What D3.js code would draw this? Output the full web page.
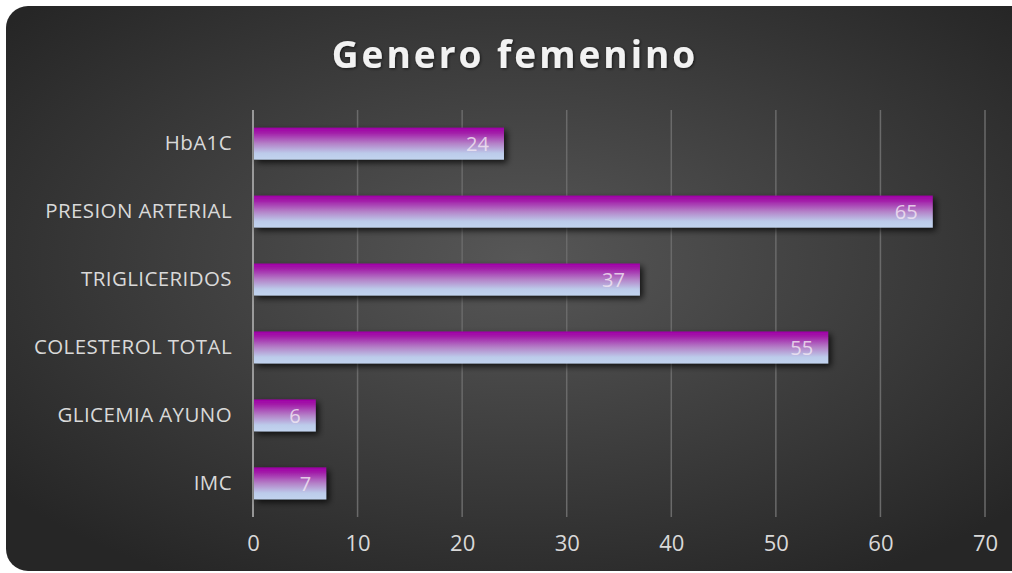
<!DOCTYPE html>
<html>
<head>
<meta charset="utf-8">
<script src="https://cdn.jsdelivr.net/npm/d3@7"></script>
<style>
  html, body { margin: 0; padding: 0; background: #fff; }
  svg { display: block; }
</style>
</head>
<body>
<div id="chart"></div>
<script>
// data
const categories = ["HbA1C", "PRESION ARTERIAL", "TRIGLICERIDOS", "COLESTEROL TOTAL", "GLICEMIA AYUNO", "IMC"];
const values = [24, 65, 37, 55, 6, 7];
const xTicks = [0, 10, 20, 30, 40, 50, 60, 70];
const title = "Genero femenino";

const width = 1012, height = 573;
const margin = { left: 253, right: 27, top: 110, bottom: 56 };

const svg = d3.select("#chart").append("svg")
  .attr("width", width)
  .attr("height", height);

const defs = svg.append("defs");

// background: radial grey
const bg = defs.append("radialGradient").attr("id", "bg")
  .attr("cx", "50%").attr("cy", "45%").attr("r", "65%");
bg.append("stop").attr("offset", "0%").attr("stop-color", "#575757");
bg.append("stop").attr("offset", "100%").attr("stop-color", "#262626");

// bar fill: magenta top -> pale blue bottom
const bar = defs.append("linearGradient").attr("id", "bar")
  .attr("x1", 0).attr("y1", 0).attr("x2", 0).attr("y2", 1);
bar.append("stop").attr("offset", "0%").attr("stop-color", "#a000a8");
bar.append("stop").attr("offset", "15%").attr("stop-color", "#a21aa8");
bar.append("stop").attr("offset", "50%").attr("stop-color", "#b482c8");
bar.append("stop").attr("offset", "80%").attr("stop-color", "#bccbea");
bar.append("stop").attr("offset", "100%").attr("stop-color", "#c2d4ef");

const shadow = defs.append("filter").attr("id", "shadow")
  .attr("x", "-10%").attr("y", "-30%").attr("width", "130%").attr("height", "180%");
shadow.append("feDropShadow")
  .attr("dx", 3).attr("dy", 3).attr("stdDeviation", 3)
  .attr("flood-color", "#000").attr("flood-opacity", 0.75);

const glow = defs.append("filter").attr("id", "glow");
glow.append("feDropShadow")
  .attr("dx", 1).attr("dy", 1).attr("stdDeviation", 1.5)
  .attr("flood-color", "#000").attr("flood-opacity", 0.6);

svg.append("rect")
  .attr("x", 6).attr("y", 6)
  .attr("width", width + 20).attr("height", 565)
  .attr("rx", 22).attr("ry", 22)
  .attr("fill", "url(#bg)");

// scales
const x = d3.scaleLinear()
  .domain([0, 70])
  .range([margin.left, width - margin.right]);

const y = d3.scaleBand()
  .domain(categories)
  .range([margin.top, height - margin.bottom])
  .paddingInner(0.53)
  .paddingOuter(0.26);

// gridlines
svg.append("g")
  .selectAll("line")
  .data(xTicks.slice(1))
  .join("line")
  .attr("x1", d => x(d)).attr("x2", d => x(d))
  .attr("y1", margin.top).attr("y2", height - margin.bottom)
  .attr("stroke", "#6a6a6a")
  .attr("stroke-width", 1.5);

// vertical axis line
svg.append("line")
  .attr("x1", x(0)).attr("x2", x(0))
  .attr("y1", margin.top).attr("y2", height - margin.bottom)
  .attr("stroke", "#b8b8b8")
  .attr("stroke-width", 1.5);

// bars
svg.append("g")
  .selectAll("rect")
  .data(values)
  .join("rect")
  .attr("x", x(0) + 1)
  .attr("y", (d, i) => y(categories[i]))
  .attr("width", d => x(d) - x(0) - 1)
  .attr("height", y.bandwidth())
  .attr("fill", "url(#bar)")
  .attr("filter", "url(#shadow)");

// value labels inside bar end
svg.append("g")
  .selectAll("text")
  .data(values)
  .join("text")
  .attr("x", d => x(d) - 15)
  .attr("y", (d, i) => y(categories[i]) + y.bandwidth() / 2)
  .attr("dy", "0.36em")
  .attr("text-anchor", "end")
  .attr("font-family", "Open Sans, sans-serif")
  .attr("font-size", 20)
  .attr("fill", "#f4eaf4")
  .attr("fill-opacity", 0.8)
  .text(d => d);

// category labels
const yAxis = d3.axisLeft(y).tickSize(0).tickPadding(21);
svg.append("g")
  .attr("transform", `translate(${x(0)},0)`)
  .call(yAxis)
  .call(g => g.select(".domain").remove())
  .selectAll("text")
  .attr("font-family", "Open Sans, sans-serif")
  .attr("font-size", 20.5)
  .attr("letter-spacing", "0.4px")
  .attr("fill", "#d9d9d9");

// x tick labels
const xAxis = d3.axisBottom(x).tickValues(xTicks).tickSize(0).tickPadding(22);
svg.append("g")
  .attr("transform", `translate(0,${height - margin.bottom})`)
  .call(xAxis)
  .call(g => g.select(".domain").remove())
  .selectAll("text")
  .attr("font-family", "Open Sans, sans-serif")
  .attr("font-size", 22)
  .attr("dy", "0.55em")
  .attr("fill", "#d9d9d9");

// title
svg.append("text")
  .attr("x", 515)
  .attr("y", 68)
  .attr("text-anchor", "middle")
  .attr("font-family", "Open Sans, sans-serif")
  .attr("font-weight", "bold")
  .attr("font-size", 37)
  .attr("letter-spacing", "3px")
  .attr("fill", "#f2f2f2")
  .attr("filter", "url(#glow)")
  .text(title);
</script>
</body>
</html>
